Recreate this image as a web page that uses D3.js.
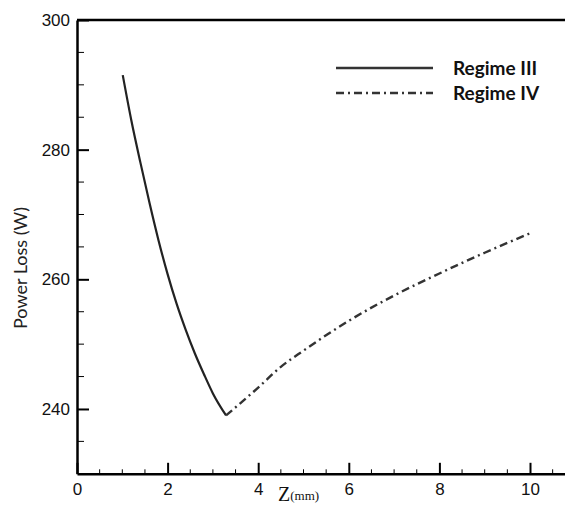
<!DOCTYPE html>
<html><head><meta charset="utf-8">
<script src="https://cdn.jsdelivr.net/npm/d3@7"></script>
<style>body{margin:0;background:#fff}svg{display:block}</style>
</head><body>
<svg id="c" width="565" height="505"></svg>
<script>
const regime3X = [1.01, 1.2, 1.4, 1.6, 1.8, 2.0, 2.2, 2.4, 2.6, 2.8, 3.0, 3.29];
const regime3Y = [291.5, 284.5, 278.0, 271.8, 266.0, 260.8, 256.2, 252.2, 248.6, 245.4, 242.4, 239.0];
const regime4X = [3.29, 4.0, 4.5, 5.0, 6.0, 7.0, 8.0, 9.0, 10.0];
const regime4Y = [239.0, 243.3, 246.5, 249.0, 253.6, 257.5, 260.9, 264.1, 267.1];
const xMajor = [0, 2, 4, 6, 8, 10];
const yMajor = [240, 260, 280, 300];
const seriesNames = ["Regime III", "Regime IV"];

const svg = d3.select("#c");
const x = d3.scaleLinear().domain([0, 11]).range([77, 575.3]);
const y = d3.scaleLinear().domain([230, 300]).range([473.8, 20]);

const xMinor = d3.range(0.5, 11, 0.5).filter(v => !xMajor.includes(v));
const yMinor = d3.range(235, 300, 5).filter(v => !yMajor.includes(v));

// x axis
const gx = svg.append("g").attr("transform", `translate(0,${y(230)})`);
gx.call(d3.axisBottom(x).tickValues(xMajor).tickSizeInner(-11).tickSizeOuter(0).tickPadding(9).tickFormat(d3.format("d")));
gx.selectAll(".tick line").attr("stroke-width", 2);
gx.selectAll(".tick text").attr("font-family", "Liberation Sans, Arial, sans-serif").attr("font-size", 17).attr("fill", "#111");
gx.select(".domain").attr("stroke-width", 2.5);
gx.selectAll(".minor").data(xMinor).enter().append("line")
  .attr("x1", d => x(d)).attr("x2", d => x(d)).attr("y1", 0).attr("y2", -4.5)
  .attr("stroke", "#000").attr("stroke-width", 1);

// y axis
const gy = svg.append("g").attr("transform", `translate(${x(0)},0)`);
gy.call(d3.axisLeft(y).tickValues(yMajor).tickSizeInner(-12).tickSizeOuter(0).tickPadding(7).tickFormat(d3.format("d")));
gy.selectAll(".tick line").attr("stroke-width", 2);
gy.selectAll(".tick text").attr("font-family", "Liberation Sans, Arial, sans-serif").attr("font-size", 17).attr("fill", "#111");
gy.select(".domain").attr("stroke-width", 2.5);
gy.selectAll(".minor").data(yMinor).enter().append("line")
  .attr("y1", d => y(d)).attr("y2", d => y(d)).attr("x1", 0).attr("x2", 7)
  .attr("stroke", "#000").attr("stroke-width", 1);

// top border
svg.append("line").attr("x1", x(0)).attr("x2", 565).attr("y1", y(300)).attr("y2", y(300))
  .attr("stroke", "#000").attr("stroke-width", 2.5);

// lines
const line = d3.line().x(d => x(d[0])).y(d => y(d[1])).curve(d3.curveMonotoneX);
svg.append("path").datum(regime3X.map((v, i) => [v, regime3Y[i]]))
  .attr("d", line).attr("fill", "none").attr("stroke", "#222").attr("stroke-width", 2.2);
svg.append("path").datum(regime4X.map((v, i) => [v, regime4Y[i]]))
  .attr("d", line).attr("fill", "none").attr("stroke", "#333").attr("stroke-width", 2.4)
  .attr("stroke-dasharray", "8,4,2,4");

// legend
const leg = [{y: 68, dash: null}, {y: 93, dash: "8,4,2,4"}];
leg.forEach((l, i) => {
  svg.append("line").attr("x1", 336).attr("x2", 433).attr("y1", l.y).attr("y2", l.y)
    .attr("stroke", "#333").attr("stroke-width", 2.5).attr("stroke-dasharray", l.dash);
  svg.append("text").attr("x", 453).attr("y", l.y + 7).text(seriesNames[i])
    .attr("font-family", "Lato, Open Sans, sans-serif").attr("font-weight", "bold").attr("font-size", 19).attr("fill", "#111");
});

// axis titles
svg.append("text").attr("transform", `translate(27,${268}) rotate(-90)`).attr("text-anchor", "middle")
  .attr("font-family", "Lato, Open Sans, sans-serif").attr("font-size", 18).attr("fill", "#222").text("Power Loss (W)");
const xt = svg.append("text").attr("x", 278).attr("y", 501).attr("font-family", "Liberation Serif, Times New Roman, serif").attr("fill", "#111");
xt.append("tspan").attr("font-size", 20).text("Z");
xt.append("tspan").attr("font-size", 13).attr("dy", -1).text("(mm)");
</script>
</body></html>
